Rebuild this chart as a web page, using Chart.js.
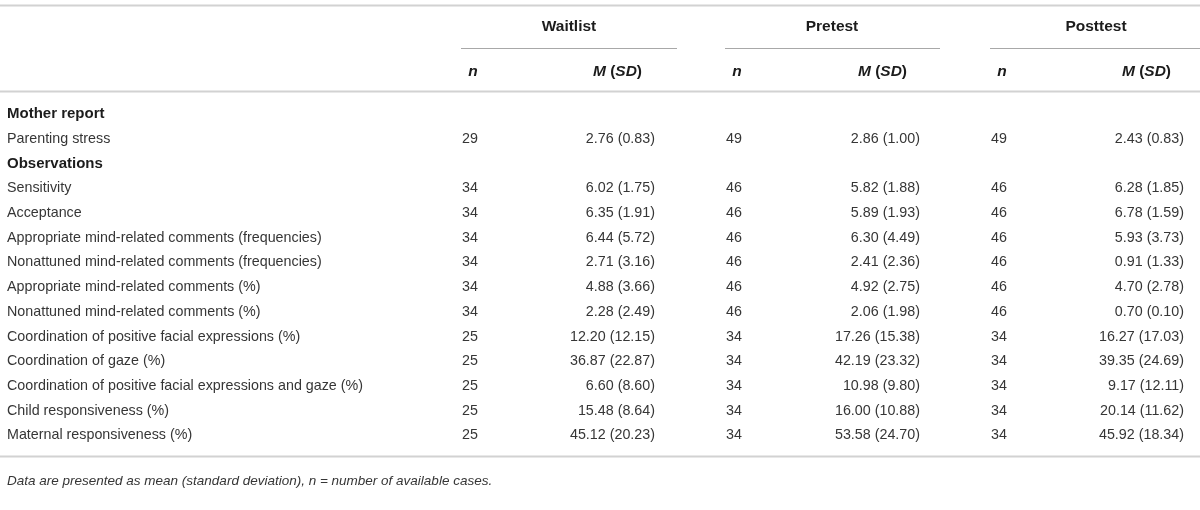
<!DOCTYPE html>
<html>
<head>
<meta charset="utf-8">
<script src="https://cdn.jsdelivr.net/npm/chart.js@4/dist/chart.umd.min.js"></script>
<style>
  html, body { margin: 0; padding: 0; background: #fff; }
  #wrap { width: 1200px; height: 510px; }
</style>
</head>
<body>
<div id="wrap"><canvas id="tbl" width="1200" height="510"></canvas></div>
<script>
// DATA
const groups = ['Waitlist', 'Pretest', 'Posttest'];
const colHeads = ['n', 'M (SD)'];
const sections = ['Mother report', 'Observations'];
const motherRows = ['Parenting stress'];
const obsRows = [
  'Sensitivity',
  'Acceptance',
  'Appropriate mind-related comments (frequencies)',
  'Nonattuned mind-related comments (frequencies)',
  'Appropriate mind-related comments (%)',
  'Nonattuned mind-related comments (%)',
  'Coordination of positive facial expressions (%)',
  'Coordination of gaze (%)',
  'Coordination of positive facial expressions and gaze (%)',
  'Child responsiveness (%)',
  'Maternal responsiveness (%)'
];
const waitN = [29, 34, 34, 34, 34, 34, 34, 25, 25, 25, 25, 25];
const waitM = ['2.76 (0.83)', '6.02 (1.75)', '6.35 (1.91)', '6.44 (5.72)', '2.71 (3.16)', '4.88 (3.66)',
  '2.28 (2.49)', '12.20 (12.15)', '36.87 (22.87)', '6.60 (8.60)', '15.48 (8.64)', '45.12 (20.23)'];
const preN = [49, 46, 46, 46, 46, 46, 46, 34, 34, 34, 34, 34];
const preM = ['2.86 (1.00)', '5.82 (1.88)', '5.89 (1.93)', '6.30 (4.49)', '2.41 (2.36)', '4.92 (2.75)',
  '2.06 (1.98)', '17.26 (15.38)', '42.19 (23.32)', '10.98 (9.80)', '16.00 (10.88)', '53.58 (24.70)'];
const postN = [49, 46, 46, 46, 46, 46, 46, 34, 34, 34, 34, 34];
const postM = ['2.43 (0.83)', '6.28 (1.85)', '6.78 (1.59)', '5.93 (3.73)', '0.91 (1.33)', '4.70 (2.78)',
  '0.70 (0.10)', '16.27 (17.03)', '39.35 (24.69)', '9.17 (12.11)', '20.14 (11.62)', '45.92 (18.34)'];
const footnote = ['Data are presented as mean (standard deviation), ', 'n', ' = number of available cases.'];

// LAYOUT (x in px, y in row units: 0 = first section row)
const FONT = "'Liberation Sans', Arial, sans-serif";
const txt = '#363636', head = '#1c1c1c', rule = '#d2d2d2', subRule = '#a8a8a8';
const labelX = 7;
const nX = [470, 734, 999];
const mX = [655, 920, 1184];
const groupX = [569, 832, 1096];
const underline = [[461, 677], [725, 940], [990, 1200]];
const Y = { top: -4.44, group: -3.56, under: -2.68, sub: -1.72, headRule: -0.93, bottom: 13.83, note: 14.84 };

// table rows in order: section, rows...
const body = [];
body.push({ kind: 'section', text: sections[0] });
motherRows.forEach(r => body.push({ kind: 'row', text: r }));
body.push({ kind: 'section', text: sections[1] });
obsRows.forEach(r => body.push({ kind: 'row', text: r }));

const tablePlugin = {
  id: 'table',
  afterDraw(chart) {
    const ctx = chart.ctx, sx = chart.scales.x, sy = chart.scales.y;
    const px = v => sx.getPixelForValue(v), py = v => sy.getPixelForValue(v);
    ctx.save();
    ctx.textBaseline = 'middle';

    // rules
    const hline = (x0, x1, yv, col, w) => {
      const y = Math.round(py(yv)) + 0.5;
      ctx.strokeStyle = col;
      ctx.lineWidth = w;
      ctx.beginPath(); ctx.moveTo(px(x0), y); ctx.lineTo(px(x1), y); ctx.stroke();
    };
    hline(0, 1200, Y.top, rule, 2);
    underline.forEach(u => hline(u[0], u[1], Y.under, subRule, 1.2));
    hline(0, 1200, Y.headRule, rule, 2);
    hline(0, 1200, Y.bottom, rule, 2);

    // group headers
    ctx.fillStyle = head;
    ctx.font = 'bold 15.5px ' + FONT;
    ctx.textAlign = 'center';
    groups.forEach((g, i) => ctx.fillText(g, px(groupX[i]), py(Y.group)));

    // sub headers: n  and  M (SD)
    groups.forEach((g, i) => {
      ctx.font = 'italic bold 15.5px ' + FONT;
      ctx.textAlign = 'center';
      ctx.fillText(colHeads[0], px(nX[i] + 3), py(Y.sub));
      // M (SD): italic M, upright "(", italic SD, upright ")"
      const parts = [['M', true], [' (', false], ['SD', true], [')', false]];
      let x = px(mX[i] - 13);
      ctx.textAlign = 'right';
      for (let k = parts.length - 1; k >= 0; k--) {
        ctx.font = (parts[k][1] ? 'italic ' : '') + 'bold 15.5px ' + FONT;
        ctx.fillText(parts[k][0], x, py(Y.sub));
        x -= ctx.measureText(parts[k][0]).width;
      }
    });

    // body
    const nCols = [waitN, preN, postN], mCols = [waitM, preM, postM];
    let d = 0;
    body.forEach((r, idx) => {
      const y = py(idx);
      if (r.kind === 'section') {
        ctx.fillStyle = head;
        ctx.font = 'bold 15px ' + FONT;
        ctx.textAlign = 'left';
        ctx.fillText(r.text, px(labelX), y);
        return;
      }
      ctx.fillStyle = txt;
      ctx.font = '14.3px ' + FONT;
      ctx.textAlign = 'left';
      ctx.fillText(r.text, px(labelX), y);
      for (let g = 0; g < 3; g++) {
        ctx.textAlign = 'center';
        ctx.fillText(String(nCols[g][d]), px(nX[g]), y);
        ctx.textAlign = 'right';
        ctx.fillText(mCols[g][d], px(mX[g]), y);
      }
      d++;
    });

    // footnote
    ctx.fillStyle = txt;
    ctx.textAlign = 'left';
    ctx.font = 'italic 13.5px ' + FONT;
    let x = px(labelX);
    footnote.forEach(s => { ctx.fillText(s, x, py(Y.note)); x += ctx.measureText(s).width; });
    ctx.restore();
  }
};

new Chart(document.getElementById('tbl'), {
  type: 'scatter',
  data: { datasets: [] },
  options: {
    responsive: false,
    animation: false,
    devicePixelRatio: 1,
    layout: { padding: 0 },
    plugins: { legend: { display: false }, tooltip: { enabled: false } },
    scales: {
      x: { type: 'linear', display: false, min: 0, max: 1200 },
      y: { type: 'linear', display: false, reverse: true, min: -4.63, max: 16.02 }
    }
  },
  plugins: [tablePlugin]
});
</script>
</body>
</html>
